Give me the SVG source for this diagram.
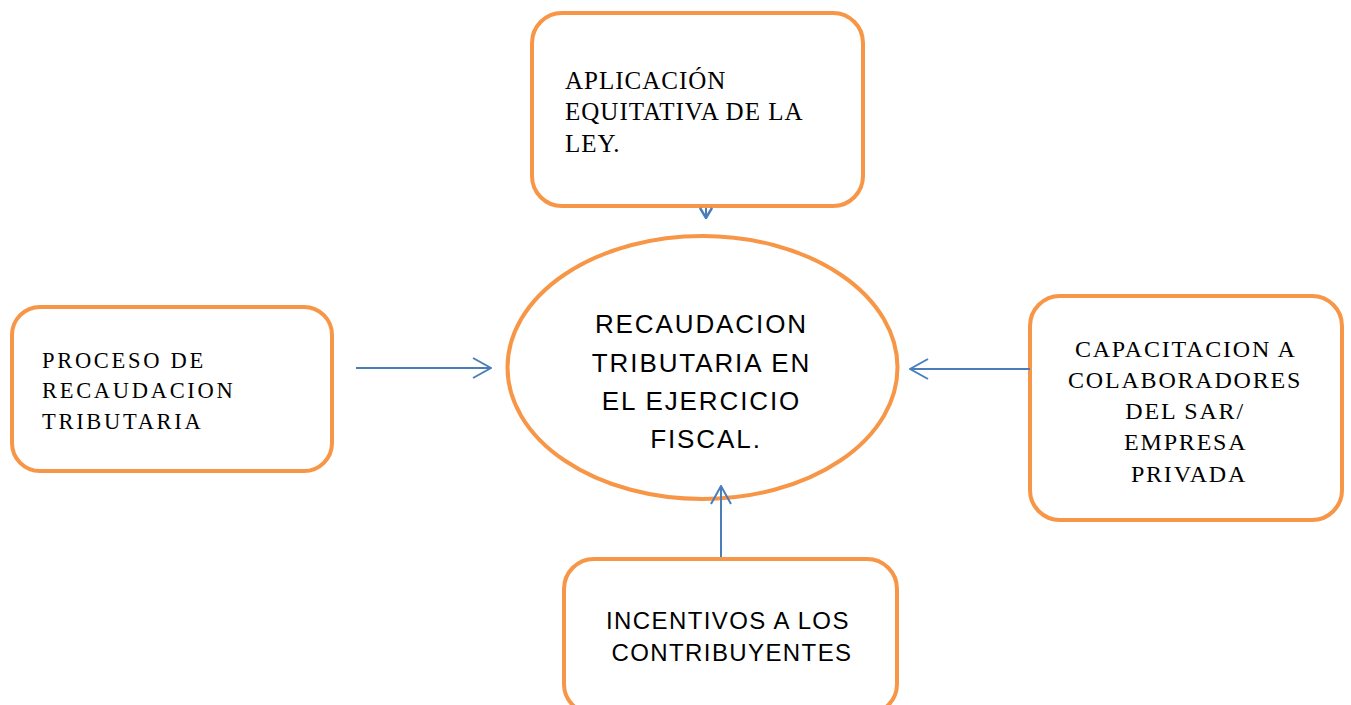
<svg xmlns="http://www.w3.org/2000/svg" width="1351" height="705" viewBox="0 0 1351 705">
<style>
.box{fill:#fff;stroke:#F79646;stroke-width:4}
.conn{fill:none;stroke:#4A7EBB;stroke-width:2}
.serif{font-family:"Liberation Serif","Times New Roman",serif;fill:#000}
.sans{font-family:"Liberation Sans",Arial,sans-serif;fill:#000}
</style>
<defs>
<marker id="arr" viewBox="0 0 20 22" refX="19" refY="11" markerWidth="20" markerHeight="22" markerUnits="userSpaceOnUse" orient="auto">
<path d="M1,1 L19,11 L1,21" fill="none" stroke="#4A7EBB" stroke-width="2"/>
</marker>
<marker id="arrS" viewBox="0 0 12 14" refX="11" refY="7" markerWidth="12" markerHeight="14" markerUnits="userSpaceOnUse" orient="auto">
<path d="M1,1 L11,7 L1,13" fill="none" stroke="#4A7EBB" stroke-width="2.5"/>
</marker>
</defs>
<rect width="1351" height="705" fill="#fff"/>
<g id="node-aplicacion">
<rect class="box" x="532" y="13" width="331" height="193" rx="30"/>
<text class="serif" font-size="25" letter-spacing="1">
<tspan x="565" y="89">APLICACIÓN</tspan>
<tspan x="565" y="120">EQUITATIVA DE LA</tspan>
<tspan x="565" y="152">LEY.</tspan>
</text>
</g>
<g id="node-recaudacion">
<ellipse cx="702.5" cy="367.5" rx="195" ry="131.5" fill="#fff" stroke="#F79646" stroke-width="4"/>
<text class="sans" font-size="26" letter-spacing="1.9" text-anchor="middle">
<tspan x="706" y="333">RECAUDACION</tspan>
<tspan x="706" y="372">TRIBUTARIA EN</tspan>
<tspan x="706" y="410">EL EJERCICIO</tspan>
<tspan x="706" y="448">FISCAL.</tspan>
</text>
</g>
<g id="node-proceso">
<rect class="box" x="12" y="307" width="320" height="164" rx="28"/>
<text class="serif" font-size="22.5" letter-spacing="2.7">
<tspan x="42" y="368">PROCESO DE</tspan>
<tspan x="42" y="398">RECAUDACION</tspan>
<tspan x="42" y="429">TRIBUTARIA</tspan>
</text>
</g>
<g id="node-capacitacion">
<rect class="box" x="1030" y="296" width="312" height="224" rx="30"/>
<text class="serif" font-size="24" letter-spacing="1.8" text-anchor="middle">
<tspan x="1189" y="357">CAPACITACION A</tspan>
<tspan x="1189" y="388">COLABORADORES</tspan>
<tspan x="1189" y="419">DEL SAR/</tspan>
<tspan x="1189" y="450">EMPRESA</tspan>
<tspan x="1189" y="482">PRIVADA</tspan>
</text>
</g>
<g id="node-incentivos">
<rect class="box" x="564" y="559" width="333" height="155" rx="30"/>
<text class="sans" font-size="24" letter-spacing="1.4" text-anchor="middle">
<tspan x="732" y="629">INCENTIVOS A LOS</tspan>
<tspan x="732" y="661">CONTRIBUYENTES</tspan>
</text>
</g>
<g id="connectors">
<line class="conn" x1="706" y1="208" x2="706" y2="218" marker-end="url(#arrS)"/>
<line class="conn" x1="356" y1="368" x2="491" y2="368" marker-end="url(#arr)"/>
<line class="conn" x1="1030" y1="369" x2="910" y2="369" marker-end="url(#arr)"/>
<line class="conn" x1="721" y1="557" x2="721" y2="486" marker-end="url(#arr)"/>
</g>
</svg>
